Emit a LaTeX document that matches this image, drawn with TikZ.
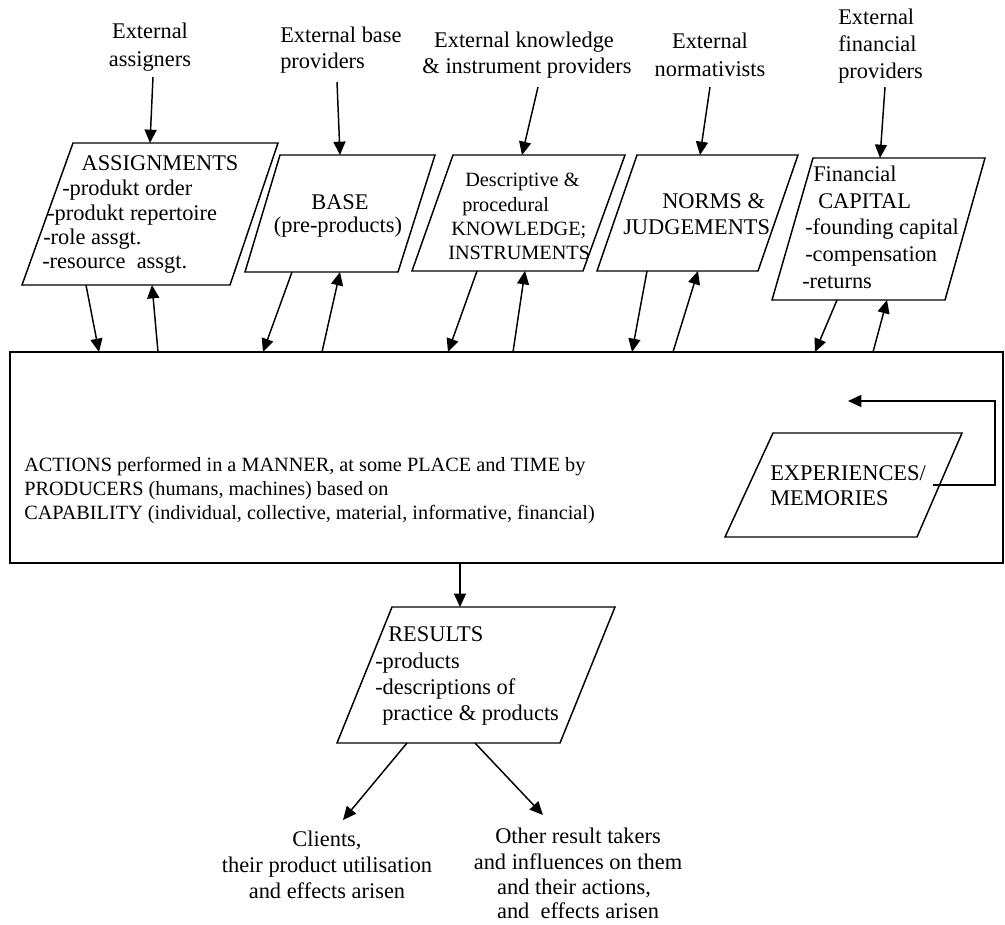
\documentclass[tikz,border=0pt]{standalone}
\usepackage{fontspec}
\setmainfont{Liberation Serif}
\usetikzlibrary{arrows.meta}
\newcommand\mfs{\fontsize{16.8}{20}\selectfont}
\newcommand\sfs{\fontsize{15.2}{18}\selectfont}
\tikzset{
  txt/.style={inner sep=0pt, font=\mfs},
  ltxt/.style={txt, anchor=base west},
  ctxt/.style={txt, anchor=base},
  shp/.style={draw, line width=1.1pt, line join=miter},
  arr/.style={line width=1.1pt, -{Triangle[length=10pt,width=9pt]}},
}
\begin{document}
\begin{tikzpicture}[x=0.75pt,y=-0.75pt]
\useasboundingbox (0,0) rectangle (1005,924);

% ---------- top labels ----------
\node[ctxt] (la1) at (150,39) {External};
\node[ctxt] (la2) at (150,66) {assigners};
\node[ltxt] (lb1) at (280,43) {External base};
\node[ltxt] (lb2) at (280,69) {providers};
\node[ctxt] (lk1) at (524,48) {External knowledge};
\node[ctxt] (lk2) at (527,74) {\& instrument providers};
\node[ctxt] (ln1) at (710,49) {External};
\node[ctxt] (ln2) at (710,76) {normativists};
\node[ltxt] (lf1) at (838,25) {External};
\node[ltxt] (lf2) at (838,52) {financial};
\node[ltxt] (lf3) at (838,79) {providers};

% ---------- parallelograms ----------
\draw[shp] (73,143) coordinate (asTL) -- (278,143) coordinate (asTR) -- (230,285) coordinate (asBR) -- (22,285) coordinate (asBL) -- cycle;
\draw[shp] (280,155) coordinate (baTL) -- (435,155) coordinate (baTR) -- (398,272) coordinate (baBR) -- (245,272) coordinate (baBL) -- cycle;
\draw[shp] (453,155) coordinate (knTL) -- (625,155) coordinate (knTR) -- (583,271) coordinate (knBR) -- (412,271) coordinate (knBL) -- cycle;
\draw[shp] (637,155) coordinate (noTL) -- (798,155) coordinate (noTR) -- (758,271) coordinate (noBR) -- (597,271) coordinate (noBL) -- cycle;
\draw[shp] (813,158) coordinate (caTL) -- (985,158) coordinate (caTR) -- (945,300) coordinate (caBR) -- (772,300) coordinate (caBL) -- cycle;

% box texts
\node[ctxt] (as1) at (160,170) {ASSIGNMENTS};
\node[ltxt] (as2) at (62,195) {-produkt order};
\node[ltxt] (as3) at (47,220) {-produkt repertoire};
\node[ltxt] (as4) at (43,244) {-role assgt.};
\node[ltxt] (as5) at (42,268) {-resource\ \ assgt.};

\node[ctxt] (ba1) at (340,209) {BASE};
\node[ctxt] (ba2) at (338,232) {(pre-products)};

\node[ltxt,font=\sfs] (kn1) at (465,186) {Descriptive \&};
\node[ltxt,font=\sfs] (kn2) at (462,211) {procedural};
\node[ltxt,font=\sfs] (kn3) at (451,235) {KNOWLEDGE;};
\node[ltxt,font=\sfs] (kn4) at (448,259) {INSTRUMENTS};

\node[ltxt] (no1) at (662,208) {NORMS \&};
\node[ltxt] (no2) at (623,234) {JUDGEMENTS};

\node[ltxt] (ca1) at (813,181) {Financial};
\node[ltxt] (ca2) at (818,208) {CAPITAL};
\node[ltxt] (ca3) at (805,234) {-founding capital};
\node[ltxt] (ca4) at (805,261) {-compensation};
\node[ltxt] (ca5) at (802,288) {-returns};

% ---------- main box ----------
\draw[shp] (10,352) coordinate (mTL) rectangle (1003,563) coordinate (mBR);
\node[ltxt,font=\sfs] (m1) at (24,471) {ACTIONS performed in a MANNER, at some PLACE and TIME by};
\node[ltxt,font=\sfs] (m2) at (24,495) {PRODUCERS (humans, machines) based on};
\node[ltxt,font=\sfs] (m3) at (24,519) {CAPABILITY (individual, collective, material, informative, financial)};

\draw[shp] (773,433) coordinate (exTL) -- (962,433) coordinate (exTR) -- (917,537) coordinate (exBR) -- (725,537) coordinate (exBL) -- cycle;
\node[ltxt] (ex1) at (770,480) {EXPERIENCES/};
\node[ltxt] (ex2) at (770,505) {MEMORIES};

% ---------- results ----------
\draw[shp] (392,607) coordinate (reTL) -- (615,607) coordinate (reTR) -- (560,743) coordinate (reBR) -- (337,743) coordinate (reBL) -- cycle;
\node[ltxt] (re1) at (388,641) {RESULTS};
\node[ltxt] (re2) at (375,668) {-products};
\node[ltxt] (re3) at (375,694) {-descriptions of};
\node[ltxt] (re4) at (382,720) {practice \& products};

\node[ctxt] (cl1) at (327,846) {Clients,};
\node[ctxt] (cl2) at (327,872) {their product utilisation};
\node[ctxt] (cl3) at (327,898) {and effects arisen};
\node[ctxt] (ot1) at (578,843) {Other result takers};
\node[ctxt] (ot2) at (578,869) {and influences on them};
\node[ctxt] (ot3) at (574,894) {and their actions,};
\node[ctxt] (ot4) at (578,918) {and\ \ effects arisen};

% ---------- connector end points ----------
\coordinate (sa) at (153,77);  \coordinate (ea) at (150,143);
\coordinate (sb) at (337,82);  \coordinate (eb) at (340,155);
\coordinate (sk) at (538,87);  \coordinate (ek) at (522,155);
\coordinate (sn) at (710,87);  \coordinate (en) at (700,155);
\coordinate (sf) at (885,87);  \coordinate (ef) at (880,158);

\coordinate (asd1) at (86,285);  \coordinate (asd2) at (99,352);
\coordinate (asu1) at (158,352); \coordinate (asu2) at (152,285);
\coordinate (bad1) at (292,272); \coordinate (bad2) at (263,352);
\coordinate (bau1) at (322,352); \coordinate (bau2) at (340,272);
\coordinate (knd1) at (477,271); \coordinate (knd2) at (448,352);
\coordinate (knu1) at (513,352); \coordinate (knu2) at (525,271);
\coordinate (nod1) at (647,271); \coordinate (nod2) at (632,352);
\coordinate (nou1) at (673,352); \coordinate (nou2) at (698,271);
\coordinate (cad1) at (837,300); \coordinate (cad2) at (815,352);
\coordinate (cau1) at (873,352); \coordinate (cau2) at (887,300);

\coordinate (mr1) at (460,563); \coordinate (mr2) at (460,607);
\coordinate (rc1) at (407,743); \coordinate (rc2) at (343,820);
\coordinate (ro1) at (475,743); \coordinate (ro2) at (543,815);

\coordinate (fb1) at (933,485); \coordinate (fb2) at (995,485);
\coordinate (fb3) at (995,401); \coordinate (fb4) at (848,401);

% ---------- connectors ----------
\foreach \a/\b in {sa/ea, sb/eb, sk/ek, sn/en, sf/ef,
  asd1/asd2, asu1/asu2, bad1/bad2, bau1/bau2, knd1/knd2, knu1/knu2,
  nod1/nod2, nou1/nou2, cad1/cad2, cau1/cau2, mr1/mr2, rc1/rc2, ro1/ro2}
  \draw[arr] (\a) -- (\b);
\draw[arr] (fb1) -- (fb2) -- (fb3) -- (fb4);
\end{tikzpicture}
\end{document}
